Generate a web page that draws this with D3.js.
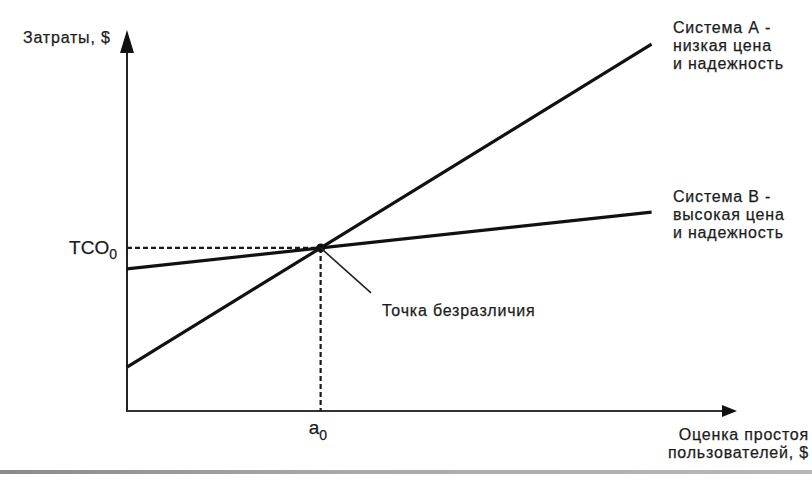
<!DOCTYPE html>
<html>
<head>
<meta charset="utf-8">
<script src="https://cdn.jsdelivr.net/npm/d3@7"></script>
<style>
  body { margin: 0; background: #fff; }
  text { font-family: "Liberation Sans", Arial, sans-serif; fill: #1c1c1c; stroke: #1c1c1c; stroke-width: 0.25px; }
  .lbl { font-size: 16px; letter-spacing: 0.8px; }
</style>
</head>
<body>
<div class="chart_area"></div>
<script>
// data (conceptual units, 0..100 on both axes)
var xEnds = [0, 86];
var systemA = [11.5, 96.3];
var systemB = [37.3, 52.2];
var labelA = ["Система А -", "низкая цена", "и надежность"];
var labelB = ["Система В -", "высокая цена", "и надежность"];
var yTitle = "Затраты, $";
var xTitle = ["Оценка простоя", "пользователей, $"];
var pointerEnd = [40, 31];
var pointerText = "Точка безразличия";

var width = 812, height = 481;

var svg = d3.select(".chart_area")
    .append("svg")
    .attr("width", width)
    .attr("height", height);

var x = d3.scaleLinear().domain([0, 100]).range([127, 737]);
var y = d3.scaleLinear().domain([0, 100]).range([411, 30]);

// intersection of the two lines
var slopeA = (systemA[1] - systemA[0]) / (xEnds[1] - xEnds[0]);
var slopeB = (systemB[1] - systemB[0]) / (xEnds[1] - xEnds[0]);
var x0 = (systemB[0] - systemA[0]) / (slopeA - slopeB);
var y0 = systemA[0] + slopeA * x0;

// axes
svg.append("line")
    .attr("x1", x(0)).attr("y1", y(0) + 1)
    .attr("x2", x(0)).attr("y2", y(94))
    .attr("stroke", "#222").attr("stroke-width", 2);
svg.append("path")
    .attr("d", "M" + x(0) + "," + y(100) + "L" + (x(0) - 7) + "," + (y(100) + 23) + "L" + (x(0) + 7) + "," + (y(100) + 23) + "Z")
    .attr("fill", "#111");

svg.append("line")
    .attr("x1", x(0)).attr("y1", y(0))
    .attr("x2", x(98)).attr("y2", y(0))
    .attr("stroke", "#333").attr("stroke-width", 2);
svg.append("path")
    .attr("d", "M" + x(100) + "," + y(0) + "L" + (x(100) - 15) + "," + (y(0) - 6) + "L" + (x(100) - 15) + "," + (y(0) + 6) + "Z")
    .attr("fill", "#111");

// dashed guides
svg.append("line")
    .attr("x1", x(0)).attr("y1", y(y0))
    .attr("x2", x(x0)).attr("y2", y(y0))
    .attr("stroke", "#1a1a1a").attr("stroke-width", 2.2)
    .attr("stroke-dasharray", "5,3");
svg.append("line")
    .attr("x1", x(x0)).attr("y1", y(y0))
    .attr("x2", x(x0)).attr("y2", y(0))
    .attr("stroke", "#1a1a1a").attr("stroke-width", 2.2)
    .attr("stroke-dasharray", "5,3");

// lines
var line = d3.line()
    .x(function(d, i) { return x(xEnds[i]); })
    .y(function(d) { return y(d); });

[systemA, systemB].forEach(function(s) {
    svg.append("path")
        .datum(s)
        .attr("d", line)
        .attr("fill", "none")
        .attr("stroke", "#111")
        .attr("stroke-width", 3.2);
});

// indifference point
svg.append("circle")
    .attr("cx", x(x0)).attr("cy", y(y0))
    .attr("r", 4.5)
    .attr("fill", "#111");

svg.append("line")
    .attr("x1", x(x0)).attr("y1", y(y0))
    .attr("x2", x(pointerEnd[0])).attr("y2", y(pointerEnd[1]))
    .attr("stroke", "#222").attr("stroke-width", 1.6);

svg.append("text")
    .attr("class", "lbl")
    .attr("x", x(pointerEnd[0]) + 11).attr("y", y(pointerEnd[1]) + 23)
    .text(pointerText);

// labels
svg.append("text")
    .attr("class", "lbl")
    .attr("x", 23).attr("y", 43)
    .text(yTitle);

var tco = svg.append("text")
    .attr("x", 117).attr("y", y(y0) + 6)
    .attr("text-anchor", "end")
    .style("font-size", "19px");
tco.append("tspan").text("TCO");
tco.append("tspan").attr("dy", 5).style("font-size", "14px").text("0");

var a0 = svg.append("text")
    .attr("x", x(x0) - 12).attr("y", 434)
    .style("font-size", "19px");
a0.append("tspan").text("a");
a0.append("tspan").attr("dy", 6).style("font-size", "14px").text("0");

function block(lines, xPos, yPos, anchor) {
    svg.append("g").selectAll("text")
        .data(lines)
        .enter()
        .append("text")
        .attr("class", "lbl")
        .attr("x", xPos)
        .attr("y", function(d, i) { return yPos + i * 18; })
        .attr("text-anchor", anchor)
        .text(function(d) { return d; });
}
block(labelA, 673, 33, "start");
block(labelB, 673, 202, "start");
block(xTitle, 809, 440, "end");

// scan edge band at the bottom
var grad = svg.append("defs").append("linearGradient").attr("id", "band");
grad.append("stop").attr("offset", "0%").attr("stop-color", "#8a8a8a");
grad.append("stop").attr("offset", "40%").attr("stop-color", "#a8a8a8");
grad.append("stop").attr("offset", "100%").attr("stop-color", "#b8b8b8");
svg.append("rect")
    .attr("x", 0).attr("y", 470)
    .attr("width", width).attr("height", 4)
    .attr("fill", "url(#band)");
</script>
</body>
</html>
